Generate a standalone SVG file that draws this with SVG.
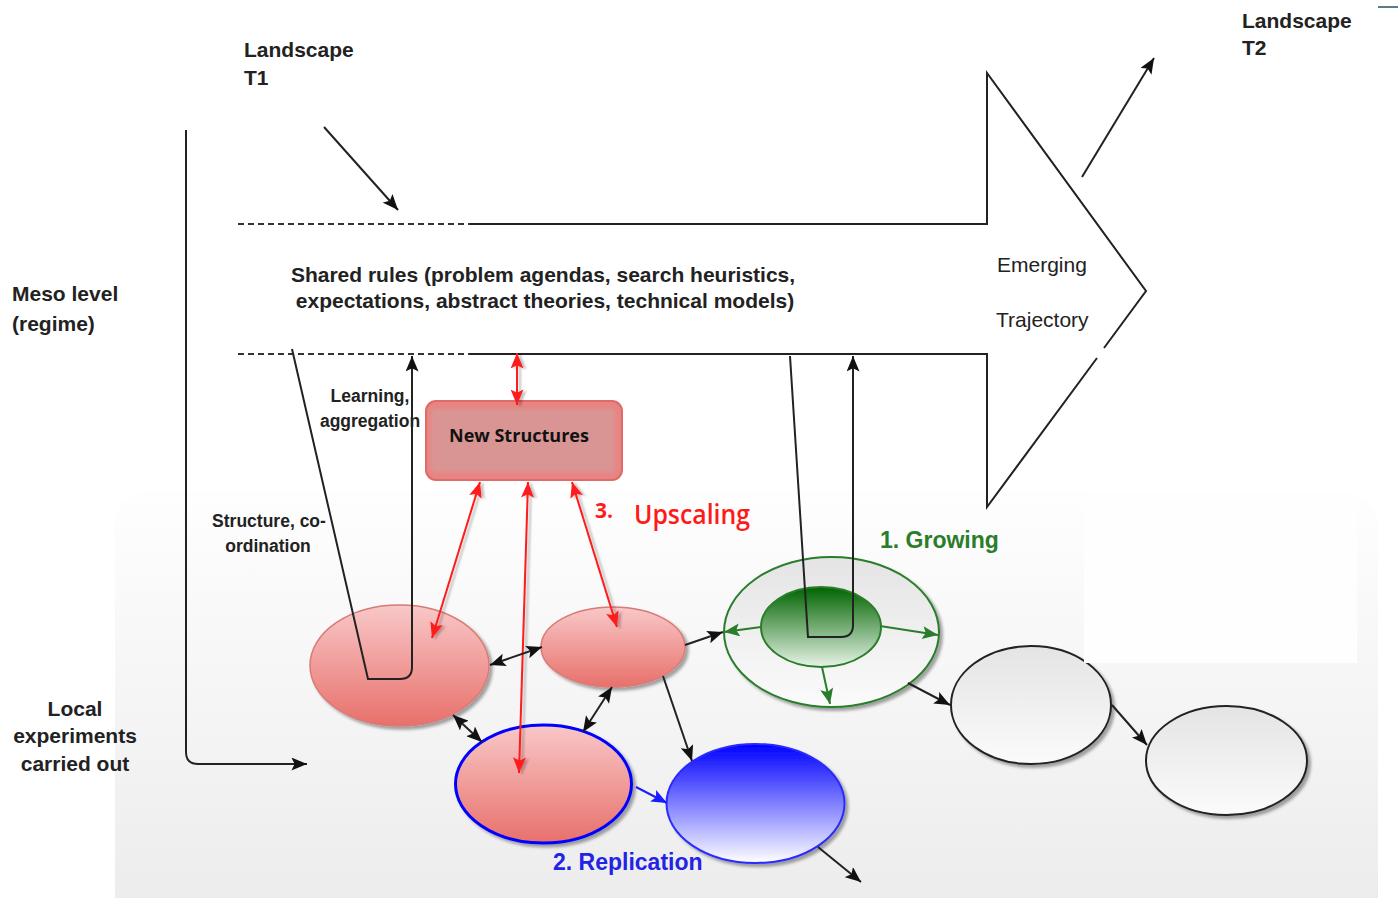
<svg xmlns="http://www.w3.org/2000/svg" width="1398" height="898" viewBox="0 0 1398 898">
<style>
.t{font-family:"Liberation Sans",Arial,sans-serif;fill:#222}
.b{font-weight:bold}
.ln{fill:none;stroke:#222;stroke-width:2}
.dash{fill:none;stroke:#333;stroke-width:2;stroke-dasharray:6,4}
.red{fill:none;stroke:#ff1a1a;stroke-width:2}
.grn{fill:none;stroke:#2a7d2a;stroke-width:2}
.blu{fill:none;stroke:#1a1aff;stroke-width:2}
</style>
<defs>
<linearGradient id="bg" x1="0" y1="0" x2="0" y2="1"><stop offset="0" stop-color="#fefefe"/><stop offset="1" stop-color="#ebebeb"/></linearGradient>
<linearGradient id="gRed" x1="0" y1="0" x2="0" y2="1"><stop offset="0" stop-color="#f8c8c8"/><stop offset="1" stop-color="#e8706b"/></linearGradient>
<linearGradient id="gBlue" x1="0" y1="0" x2="0" y2="1"><stop offset="0" stop-color="#0000ff"/><stop offset="1" stop-color="#ffffff"/></linearGradient>
<linearGradient id="gGrn" x1="0" y1="0" x2="0" y2="1"><stop offset="0" stop-color="#006400"/><stop offset="1" stop-color="#e8f4e8"/></linearGradient>
<linearGradient id="gGray" x1="0" y1="0" x2="0" y2="1"><stop offset="0" stop-color="#e4e4e4"/><stop offset="1" stop-color="#fbfbfb"/></linearGradient>
<filter id="sh" filterUnits="userSpaceOnUse" x="0" y="0" width="1398" height="898"><feDropShadow dx="3" dy="3" stdDeviation="1.5" flood-color="#000" flood-opacity="0.35"/></filter>
<filter id="shl" filterUnits="userSpaceOnUse" x="0" y="0" width="1398" height="898"><feDropShadow dx="3" dy="1" stdDeviation="0.8" flood-color="#000" flood-opacity="0.25"/></filter>
<filter id="blr" filterUnits="userSpaceOnUse" x="0" y="0" width="1398" height="898"><feGaussianBlur stdDeviation="2"/></filter>
<marker id="ak" viewBox="0 0 12 10" refX="12" refY="5" markerWidth="16" markerHeight="13" markerUnits="userSpaceOnUse" orient="auto-start-reverse"><path d="M0,0 L12,5 L0,10 L2.5,5 z" fill="#111"/></marker>
<marker id="ar" viewBox="0 0 12 10" refX="12" refY="5" markerWidth="16" markerHeight="13" markerUnits="userSpaceOnUse" orient="auto-start-reverse"><path d="M0,0 L12,5 L0,10 L2.5,5 z" fill="#ff1a1a"/></marker>
<marker id="ag" viewBox="0 0 12 10" refX="12" refY="5" markerWidth="16" markerHeight="13" markerUnits="userSpaceOnUse" orient="auto-start-reverse"><path d="M0,0 L12,5 L0,10 L2.5,5 z" fill="#2a7d2a"/></marker>
<marker id="ab" viewBox="0 0 12 10" refX="12" refY="5" markerWidth="16" markerHeight="13" markerUnits="userSpaceOnUse" orient="auto-start-reverse"><path d="M0,0 L12,5 L0,10 L2.5,5 z" fill="#1a1aff"/></marker>
</defs>

<rect width="1398" height="898" fill="#ffffff"/>
<g id="background">
<rect x="115" y="492" width="1263" height="440" rx="32" fill="url(#bg)"/>
</g>

<g id="trajectory-arrow">
<path class="dash" d="M238,224 L470,224 M238,354 L470,354"/>
<path class="ln" d="M470,224 L987,224 L987,73 L1146,291 L1104,348 M1097,358 L987,507 L987,354 L470,354"/>
</g>

<g id="nodes">
<g id="exp1"><ellipse cx="399.5" cy="665.5" rx="89.5" ry="60.5" fill="url(#gRed)" stroke="#d97a76" stroke-width="1.5" filter="url(#sh)"/></g>
<g id="exp2"><ellipse cx="613" cy="647" rx="72" ry="40" fill="url(#gRed)" stroke="#d97a76" stroke-width="1.5" filter="url(#sh)"/></g>
<g id="exp3"><ellipse cx="543.5" cy="784" rx="88" ry="59" fill="url(#gRed)" stroke="#0000ff" stroke-width="3" filter="url(#sh)"/></g>
<g id="exp4"><ellipse cx="755.5" cy="803.5" rx="89" ry="59.5" fill="url(#gBlue)" stroke="#2a2aff" stroke-width="2" filter="url(#sh)"/></g>
<g id="grow-outer"><ellipse cx="831.5" cy="632" rx="107.5" ry="75" fill="url(#gGray)" stroke="#2a7d2a" stroke-width="2" filter="url(#sh)"/></g>
<g id="grow-inner"><ellipse cx="821" cy="627" rx="60" ry="40" fill="url(#gGrn)" stroke="#2a7d2a" stroke-width="2"/></g>
<g id="exp5"><ellipse cx="1031" cy="705" rx="80" ry="59" fill="url(#gGray)" stroke="#222" stroke-width="2" filter="url(#sh)"/></g>
<g id="exp6"><ellipse cx="1226.5" cy="760.5" rx="80.5" ry="54.5" fill="url(#gGray)" stroke="#222" stroke-width="2" filter="url(#sh)"/></g>
<g id="new-structures">
<rect x="426" y="401" width="196" height="79" rx="10" fill="#e88482" stroke="#e06a68" stroke-width="2"/>
<rect x="431" y="409" width="184" height="63" rx="3" fill="#d99594" filter="url(#blr)"/>
<text x="519" y="442" text-anchor="middle" font-family="'Open Sans','Liberation Sans',sans-serif" font-size="18" font-weight="bold" fill="#111" textLength="140" lengthAdjust="spacingAndGlyphs">New Structures</text>
</g>
</g>

<rect x="1084" y="492" width="273" height="171" fill="#fefefe"/>
<line x1="1378" y1="7" x2="1398" y2="7" stroke="#5b7b8c" stroke-width="2"/>

<g id="connectors">
<line class="ln" x1="324" y1="127" x2="398" y2="210" marker-end="url(#ak)"/>
<line class="ln" x1="1082" y1="177" x2="1154" y2="58" marker-end="url(#ak)"/>
<path class="ln" d="M186,130 L186,752 Q186,764 198,764 L307,764" marker-end="url(#ak)"/>
<path class="ln" stroke-width="1.8" d="M292,349 L368,679 L400,679 Q412,679 412,667 L412,356" marker-end="url(#ak)"/>
<path class="ln" stroke-width="1.8" d="M790,356 L808,637 L841,637 Q853,637 853,625 L853,356" marker-end="url(#ak)"/>
<g filter="url(#shl)">
<line class="red" x1="517" y1="353" x2="517" y2="405" marker-start="url(#ar)" marker-end="url(#ar)"/>
<line class="red" x1="480" y1="482" x2="432" y2="638" marker-start="url(#ar)" marker-end="url(#ar)"/>
<line class="red" x1="528" y1="482" x2="519" y2="773" marker-start="url(#ar)" marker-end="url(#ar)"/>
<line class="red" x1="572" y1="482" x2="617" y2="627" marker-start="url(#ar)" marker-end="url(#ar)"/>
</g>
<line class="ln" x1="490" y1="665" x2="542" y2="647" marker-start="url(#ak)" marker-end="url(#ak)"/>
<line class="ln" x1="453" y1="715" x2="482" y2="742" marker-start="url(#ak)" marker-end="url(#ak)"/>
<line class="ln" x1="612" y1="687" x2="583" y2="732" marker-start="url(#ak)" marker-end="url(#ak)"/>
<line class="ln" x1="663" y1="676" x2="692" y2="761" marker-end="url(#ak)"/>
<line class="ln" x1="685" y1="645" x2="723" y2="632" marker-end="url(#ak)"/>
<line class="ln" x1="818" y1="847" x2="861" y2="882" marker-end="url(#ak)"/>
<line class="ln" x1="908" y1="683" x2="950" y2="705" marker-end="url(#ak)"/>
<line class="ln" x1="1112" y1="705" x2="1147" y2="745" marker-end="url(#ak)"/>
<line class="blu" x1="636" y1="787" x2="667" y2="803" marker-end="url(#ab)"/>
<line class="grn" x1="761" y1="627" x2="724" y2="632" marker-end="url(#ag)"/>
<line class="grn" x1="880" y1="626" x2="938" y2="635" marker-end="url(#ag)"/>
<line class="grn" x1="822" y1="667" x2="830" y2="704" marker-end="url(#ag)"/>
</g>

<g id="labels">
<text class="t b" x="244" y="57" font-size="21">Landscape</text>
<text class="t b" x="244" y="85" font-size="21">T1</text>
<text class="t b" x="1242" y="28" font-size="21">Landscape</text>
<text class="t b" x="1242" y="55" font-size="21">T2</text>
<text class="t b" x="12" y="301" font-size="21">Meso level</text>
<text class="t b" x="12" y="331" font-size="21">(regime)</text>
<text class="t b" x="75" y="716" font-size="21" text-anchor="middle">Local</text>
<text class="t b" x="75" y="743" font-size="21" text-anchor="middle">experiments</text>
<text class="t b" x="75" y="771" font-size="21" text-anchor="middle">carried out</text>
<text class="t b" x="543" y="282" font-size="21" text-anchor="middle">Shared rules (problem agendas, search heuristics,</text>
<text class="t b" x="545" y="308" font-size="21" text-anchor="middle">expectations, abstract theories, technical models)</text>
<text class="t" x="997" y="272" font-size="21" fill="#333">Emerging</text>
<text class="t" x="996" y="327" font-size="21" fill="#333">Trajectory</text>
<text class="t b" x="370" y="402" font-size="17.5" text-anchor="middle">Learning,</text>
<text class="t b" x="370" y="427" font-size="17.5" text-anchor="middle">aggregation</text>
<text class="t b" x="269" y="527" font-size="17.5" text-anchor="middle">Structure, co-</text>
<text class="t b" x="268" y="552" font-size="17.5" text-anchor="middle">ordination</text>
<text x="595" y="518" font-family="'Open Sans','Liberation Sans',sans-serif" font-size="21" font-weight="bold" fill="#ff1a1a">3.</text>
<text x="634" y="524" font-family="'Open Sans','Liberation Sans',sans-serif" font-size="27" font-weight="600" fill="#ff1a1a" textLength="116" lengthAdjust="spacingAndGlyphs">Upscaling</text>
<text x="880" y="548" font-family="'Liberation Sans',Arial,sans-serif" font-size="23" font-weight="bold" fill="#2a7d2a">1. Growing</text>
<text x="553" y="870" font-family="'Liberation Sans',Arial,sans-serif" font-size="23" font-weight="bold" fill="#2323e6">2. Replication</text>
</g>
</svg>
